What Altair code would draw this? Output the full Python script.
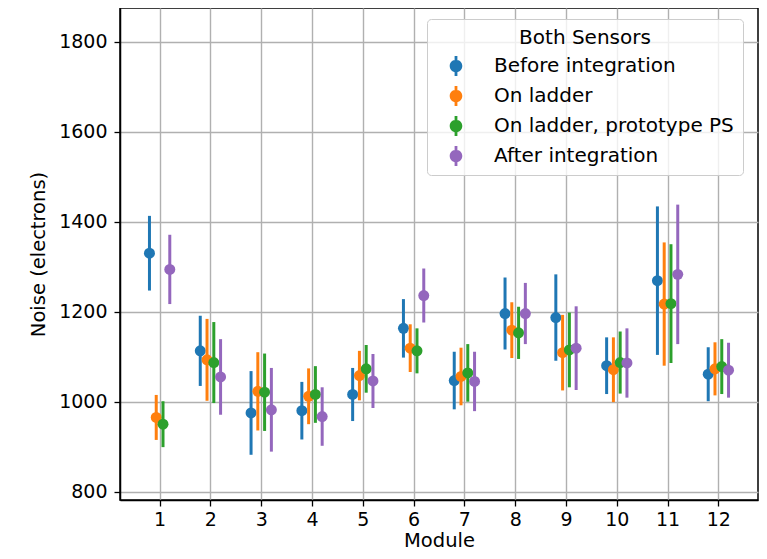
import altair as alt
import pandas as pd

MODULES = list(range(1, 13))
SERIES = ["Before integration", "On ladder", "On ladder, prototype PS", "After integration"]
COLORS = ["#1f77b4", "#ff7f0e", "#2ca02c", "#9467bd"]

BEFORE = [1330, 1113, 975, 980, 1016, 1163, 1047, 1196, 1187, 1080, 1269, 1061]
BEFORE_ERR = [83, 78, 93, 64, 59, 65, 64, 80, 96, 63, 165, 60]
LADDER = [965, 1093, 1023, 1012, 1058, 1119, 1056, 1159, 1109, 1071, 1217, 1073]
LADDER_ERR = [50, 91, 87, 62, 55, 53, 64, 62, 84, 72, 137, 59]
PROTO = [950, 1087, 1021, 1016, 1073, 1113, 1064, 1153, 1115, 1087, 1218, 1078]
PROTO_ERR = [51, 90, 86, 63, 53, 50, 64, 58, 83, 69, 132, 61]
AFTER = [1294, 1055, 982, 967, 1046, 1236, 1045, 1196, 1119, 1086, 1283, 1070]
AFTER_ERR = [77, 84, 93, 65, 60, 60, 66, 68, 93, 77, 155, 61]

Y_TICKS = [800, 1000, 1200, 1400, 1600, 1800]

values = [BEFORE, LADDER, PROTO, AFTER]
errors = [BEFORE_ERR, LADDER_ERR, PROTO_ERR, AFTER_ERR]
rows = []
for i, s in enumerate(SERIES):
    for m, v, e in zip(MODULES, values[i], errors[i]):
        rows.append({"module": m, "series": s, "idx": i, "value": v, "err": e})
df = pd.DataFrame(rows)

FONT = "DejaVu Sans"
LEGEND_SYMBOL = ("M-0.63,0A0.63,0.63,0,1,1,0.63,0A0.63,0.63,0,1,1,-0.63,0Z "
                 "M-0.14,-1L0.14,-1L0.14,1L-0.14,1Z")

base = alt.Chart(df).transform_calculate(
    xpos="datum.module + (datum.idx - 1.5) * 0.4 / 3",
    lo="datum.value - datum.err",
    hi="datum.value + datum.err",
)

xenc = alt.X("xpos:Q",
             scale=alt.Scale(domain=[0.22, 12.78], nice=False, zero=False),
             axis=alt.Axis(values=MODULES, title="Module", format="d"))
yscale = alt.Scale(domain=[781.5, 1875], nice=False, zero=False)

legend = alt.Legend(
    title="Both Sensors", orient="none", legendX=307, legendY=11,
    symbolType=LEGEND_SYMBOL, symbolSize=400, symbolStrokeWidth=0,
    symbolOffset=10, labelOffset=28, padding=9, rowPadding=10,
    titlePadding=8, titleAnchor="middle",
    fillColor="rgba(255,255,255,0.8)", strokeColor="#cccccc", cornerRadius=4,
    labelFontSize=20, titleFontSize=20, titleFontWeight="normal",
    labelFont=FONT, titleFont=FONT, labelColor="black", titleColor="black",
    labelLimit=400,
)

layers = []
for i, s in enumerate(SERIES):
    sub = base.transform_filter(alt.datum.series == s)
    rule = sub.mark_rule(strokeWidth=3).encode(
        x=xenc,
        y=alt.Y("lo:Q", scale=yscale,
                axis=alt.Axis(values=Y_TICKS, title="Noise (electrons)", format="d")),
        y2="hi:Q",
        color=alt.value(COLORS[i]),
    )
    point = sub.mark_circle(size=120, opacity=1).encode(
        x=xenc,
        y=alt.Y("value:Q", scale=yscale),
        color=alt.Color("series:N", scale=alt.Scale(domain=SERIES, range=COLORS),
                        legend=legend),
    )
    layers += [rule, point]

chart = alt.layer(*layers).properties(
    width=638, height=492,
    autosize=alt.AutoSizeParams(type="none"),
    padding={"left": 112, "top": 0, "right": 1, "bottom": 51},
).configure_view(
    stroke="black", strokeWidth=1.5,
).configure_axis(
    labelFont=FONT, titleFont=FONT, labelFontSize=19, titleFontSize=19.5,
    labelColor="black", titleColor="black", titleFontWeight="normal",
    domainColor="black", domainWidth=1.5, tickColor="black", tickWidth=1.3,
    tickSize=6, gridColor="#b0b0b0", gridWidth=1.4, labelPadding=7,
).configure_axisY(
    titlePadding=10,
).configure_axisX(
    titlePadding=2, labelPadding=4,
)

chart.save("out.html", embed_options={"renderer": "svg", "actions": False})
